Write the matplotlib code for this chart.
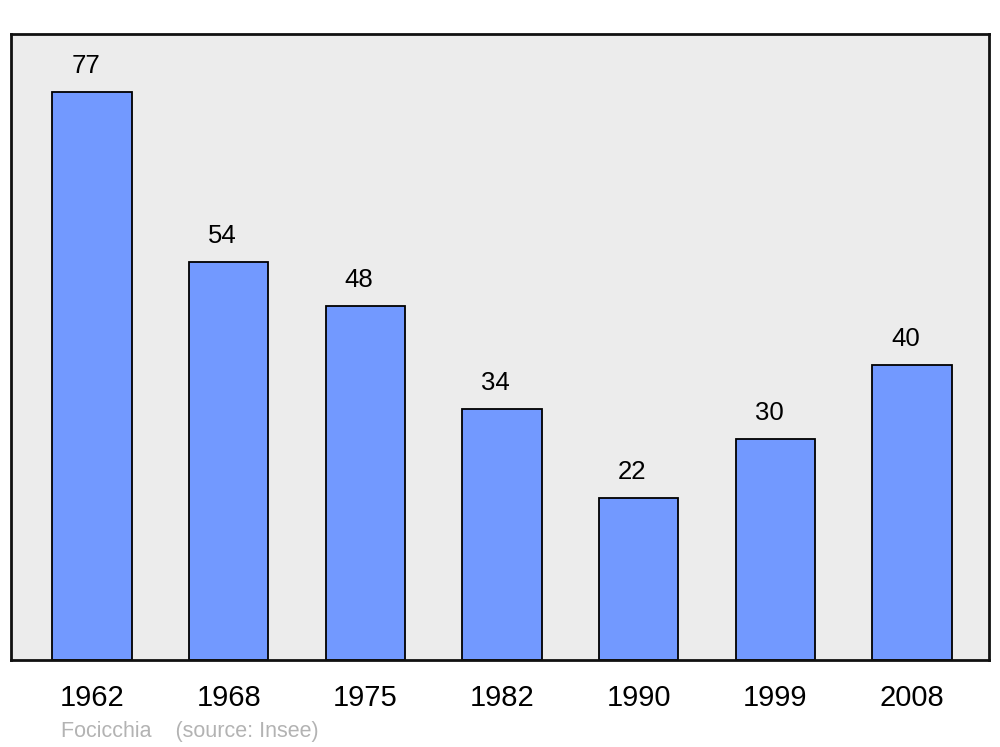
import matplotlib.pyplot as plt

years = ['1962', '1968', '1975', '1982', '1990', '1999', '2008']
population = [77, 54, 48, 34, 22, 30, 40]

plt.rcParams['font.family'] = ['Liberation Sans', 'DejaVu Sans']

fig = plt.figure(figsize=(10, 7.47), dpi=100)
ax = fig.add_axes([0.011, 1 - 660 / 747, 0.978, 626 / 747])
ax.set_facecolor('#ececec')

bars = ax.bar(range(len(years)), population, width=0.58, color='#7299ff',
              edgecolor='black', linewidth=1.3, zorder=2)

# valeurs au-dessus des barres
for i, v in enumerate(population):
    ax.annotate(str(v), xy=(i, v), xytext=(-4.5, 10), textcoords='offset points',
                ha='center', va='bottom', fontsize=18.5, color='black')

ax.set_xlim(-0.593, 6.563)
ax.set_ylim(0, 84.9)
ax.set_xticks(range(len(years)))
ax.set_xticklabels(years, fontsize=21)
ax.tick_params(axis='x', length=0, pad=17)
ax.set_yticks([])

for s in ax.spines.values():
    s.set_linewidth(2)
    s.set_color('#111111')

fig.text(0.061, 1 - 732 / 747, 'Focicchia    (source: Insee)', fontsize=15.5,
         color='#b3b3b3', ha='left', va='center')

fig.savefig('out.png', dpi=100)
